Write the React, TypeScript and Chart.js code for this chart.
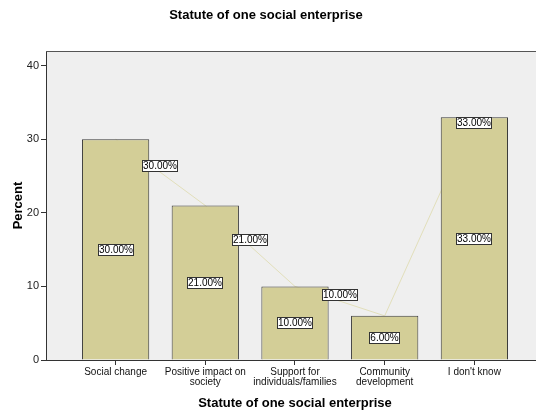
import React, { useEffect, useRef } from 'react';
import { Chart, registerables } from 'chart.js';
Chart.register(...registerables);

const categories: string[][] = [
  ['Social change'],
  ['Positive impact on', 'society'],
  ['Support for', 'individuals/families'],
  ['Community', 'development'],
  ["I don't know"],
];
const percents = [30, 21, 10, 6, 33];
const yTicks = [0, 10, 20, 30, 40];
const yMax = 42;
const xMin = -0.776;
const xMax = 4.687;
const titleText = 'Statute of one social enterprise';
const xTitleText = 'Statute of one social enterprise';
const yTitleText = 'Percent';

const FONT = '"Liberation Sans", Arial, sans-serif';

function labelBox(ctx: CanvasRenderingContext2D, text: string, cx: number, cy: number) {
  ctx.font = `10px ${FONT}`;
  const w = Math.ceil(ctx.measureText(text).width) + 2;
  const h = 12;
  const x = Math.round(cx - w / 2);
  const y = Math.round(cy - h / 2);
  ctx.fillStyle = '#ffffff';
  ctx.fillRect(x, y, w, h);
  ctx.strokeStyle = '#333333';
  ctx.lineWidth = 1;
  ctx.strokeRect(x + 0.5, y + 0.5, w - 1, h - 1);
  ctx.fillStyle = '#000000';
  ctx.textAlign = 'center';
  ctx.textBaseline = 'middle';
  ctx.fillText(text, x + w / 2, y + h / 2 + 0.5);
}

const framePlugin = {
  id: 'spssFrame',
  beforeDraw(chart: any) {
    const { ctx, chartArea: a } = chart;
    ctx.save();
    ctx.fillStyle = '#ffffff';
    ctx.fillRect(0, 0, chart.width, chart.height);
    ctx.fillStyle = '#efefef';
    ctx.fillRect(a.left, a.top, a.right - a.left, a.bottom - a.top);
    ctx.restore();
  },
  afterDatasetsDraw(chart: any) {
    const { ctx, chartArea: a } = chart;
    const xs = chart.scales.x;
    const ys = chart.scales.y;
    ctx.save();
    ctx.strokeStyle = '#555555';
    ctx.lineWidth = 1;
    ctx.beginPath();
    ctx.moveTo(a.left, Math.round(a.top) + 0.5);
    ctx.lineTo(a.right + 1, Math.round(a.top) + 0.5);
    ctx.stroke();

    const fmt = (v: number) => v.toFixed(2) + '%';
    // labels inside bars
    percents.forEach((v, i) => {
      labelBox(ctx, fmt(v), xs.getPixelForValue(i), ys.getPixelForValue(v / 2));
    });
    // labels on the line
    for (let i = 0; i < percents.length; i++) {
      if (i < percents.length - 2) {
        const cx = (xs.getPixelForValue(i) + xs.getPixelForValue(i + 1)) / 2;
        const cy = (ys.getPixelForValue(percents[i]) + ys.getPixelForValue(percents[i + 1])) / 2 - 6;
        labelBox(ctx, fmt(percents[i]), cx, cy);
      } else if (i === percents.length - 1) {
        labelBox(ctx, fmt(percents[i]), xs.getPixelForValue(i), ys.getPixelForValue(percents[i]) + 6);
      }
    }

    // titles
    ctx.fillStyle = '#000000';
    ctx.textAlign = 'center';
    ctx.textBaseline = 'middle';
    ctx.font = `bold 13px ${FONT}`;
    ctx.fillText(titleText, chart.width / 2 - 2, 15);
    ctx.fillText(xTitleText, xs.getPixelForValue(2), 403);
    ctx.translate(18, (a.top + a.bottom) / 2);
    ctx.rotate(-Math.PI / 2);
    ctx.fillText(yTitleText, 0, 0);
    ctx.restore();
  },
};

export default function App() {
  const ref = useRef<HTMLCanvasElement>(null);
  useEffect(() => {
    if (!ref.current) return;
    Chart.defaults.font.family = FONT;
    const pts = percents.map((v, i) => ({ x: i, y: v }));
    const chart = new Chart(ref.current, {
      type: 'bar',
      data: {
        datasets: [
          {
            type: 'bar',
            data: pts,
            backgroundColor: '#d3ce97',
            borderColor: '#3a3a3a',
            borderWidth: 1,
            barPercentage: 0.75,
            categoryPercentage: 1,
            order: 1,
          } as any,
          {
            type: 'line',
            data: pts,
            borderColor: '#e2dfbb',
            borderWidth: 1,
            pointRadius: 0,
            tension: 0,
            order: 2,
          } as any,
        ],
      },
      options: {
        animation: false,
        responsive: false,
        devicePixelRatio: 1,
        layout: { padding: { top: 51, left: 0, right: 0, bottom: 0 } },
        plugins: { legend: { display: false }, tooltip: { enabled: false }, title: { display: false } },
        scales: {
          x: {
            type: 'linear',
            min: xMin,
            max: xMax,
            offset: false,
            afterBuildTicks: (s: any) => {
              s.ticks = categories.map((_, i) => ({ value: i }));
            },
            afterFit: (s: any) => {
              s.height = 53;
            },
            ticks: {
              callback: (_v: any, i: number) => categories[i],
              font: { size: 10, lineHeight: 1.0 },
              color: '#111111',
              padding: 2,
              maxRotation: 0,
              autoSkip: false,
            },
            grid: { drawOnChartArea: false, offset: false, tickLength: 5, color: '#333333' },
            border: { color: '#333333' },
          } as any,
          y: {
            min: 0,
            max: yMax,
            afterBuildTicks: (s: any) => {
              s.ticks = yTicks.map((v) => ({ value: v }));
            },
            afterFit: (s: any) => {
              s.width = 46;
            },
            ticks: { font: { size: 11 }, color: '#222222', padding: 2 },
            grid: { drawOnChartArea: false, tickLength: 5, color: '#333333' },
            border: { color: '#333333' },
          } as any,
        },
      },
      plugins: [framePlugin],
    });
    return () => chart.destroy();
  }, []);
  return (
    <div style={{ position: 'fixed', left: 0, top: 0, width: 536, height: 413, background: '#fff' }}>
      <canvas ref={ref} width={536} height={413} style={{ display: 'block', width: 536, height: 413 }} />
    </div>
  );
}
